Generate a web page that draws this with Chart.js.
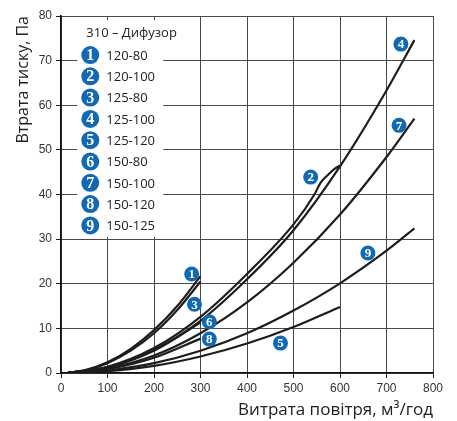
<!DOCTYPE html>
<html>
<head>
<meta charset="utf-8">
<script src="https://cdn.jsdelivr.net/npm/chart.js@4.4.1/dist/chart.umd.min.js"></script>
<style>
html,body{margin:0;padding:0;background:#fff;}
#wrap{position:relative;width:457px;height:421px;}
</style>
</head>
<body>
<div id="wrap"><canvas id="c" width="457" height="421"></canvas></div>
<script>
// ---- data ----
const seriesNames = ['120-80','120-100','125-80','125-100','125-120','150-80','150-100','150-120','150-125'];
const legendTitle = '310 – Дифузор';
const xTicks = [0,100,200,300,400,500,600,700,800];
const yTicks = [0,10,20,30,40,50,60,70,80];

const flow1 = [15, 50, 100, 150, 200, 250, 300];
const dp1   = [0.05, 0.6, 2.4, 5.4, 9.6, 15.0, 21.7];
const flow2 = [15, 100, 200, 300, 400, 500, 545, 558, 575, 589, 600];
const dp2   = [0.05, 1.4, 5.6, 12.6, 22.2, 33.3, 40.0, 42.6, 44.5, 45.8, 46.5];
const flow3 = [15, 50, 100, 150, 200, 250, 300];
const dp3   = [0.05, 0.5, 2.2, 5.0, 8.9, 14.1, 20.5];
const flow4 = [15, 100, 200, 300, 400, 500, 600, 700, 760];
const dp4   = [0.03, 1.3, 5.2, 11.7, 21.0, 32.0, 46.3, 63.3, 74.6];
const flow5 = [15, 100, 200, 300, 400, 500, 600];
const dp5   = [0.01, 0.4, 1.6, 3.7, 6.6, 10.3, 14.8];
const flow6 = [15, 100, 200, 300];
const dp6   = [0.03, 1.25, 5.0, 11.3];
const flow7 = [15, 100, 200, 300, 400, 500, 600, 700, 760];
const dp7   = [0.02, 1.0, 3.9, 8.9, 15.8, 24.7, 35.5, 48.4, 57.0];
const flow8 = [15, 100, 200, 300];
const dp8   = [0.02, 0.85, 3.4, 7.7];
const flow9 = [15, 100, 200, 300, 400, 500, 600, 700, 760];
const dp9   = [0.01, 0.56, 2.2, 5.0, 8.9, 14.0, 20.1, 27.4, 32.4];

// numbered marker positions (data units)
const markX = [281, 537, 287, 731, 472, 319, 727, 319, 660];
const markY = [22.2, 43.9, 15.4, 73.7, 6.7, 11.5, 55.5, 7.6, 26.9];

const flows = [flow1, flow2, flow3, flow4, flow5, flow6, flow7, flow8, flow9];
const dps   = [dp1, dp2, dp3, dp4, dp5, dp6, dp7, dp8, dp9];

const BLUE = '#1169b3';
const LINE = '#1d1d1d';
const GRID = '#4a4a4a';

const datasets = flows.map((f, i) => ({
  label: seriesNames[i],
  data: f.map((x, j) => ({x: x, y: dps[i][j]})),
  borderColor: LINE,
  borderWidth: 2.2,
  pointRadius: 0,
  fill: false,
  cubicInterpolationMode: 'monotone'
}));

function numBadge(ctx, x, y, r, n, fontPx) {
  ctx.save();
  ctx.beginPath();
  ctx.arc(x, y, r, 0, Math.PI * 2);
  ctx.fillStyle = BLUE;
  ctx.fill();
  ctx.fillStyle = '#fff';
  ctx.font = 'bold ' + fontPx + 'px "Liberation Serif", serif';
  ctx.textAlign = 'center';
  ctx.textBaseline = 'middle';
  ctx.fillText(String(n), x, y + 1);
  ctx.restore();
}

const overlay = {
  id: 'overlay',
  beforeDatasetsDraw(chart) {
    const ctx = chart.ctx;
    const xs = chart.scales.x, ys = chart.scales.y;
    // legend box
    const bx = xs.getPixelForValue(35), bx2 = xs.getPixelForValue(220);
    const by = ys.getPixelForValue(79.1), by2 = ys.getPixelForValue(30.5);
    ctx.save();
    ctx.fillStyle = '#fff';
    ctx.fillRect(bx, by, bx2 - bx, by2 - by);
    ctx.fillStyle = '#222';
    ctx.font = '13px "Open Sans", sans-serif';
    ctx.textBaseline = 'middle';
    ctx.textAlign = 'left';
    ctx.fillText(legendTitle, bx + 9, by + 13);
    const step = 21.3;
    for (let i = 0; i < seriesNames.length; i++) {
      const cy = by + 35 + i * step;
      numBadge(ctx, bx + 13, cy, 9, i + 1, 16);
      ctx.fillStyle = '#222';
      ctx.font = '13px "Open Sans", sans-serif';
      ctx.textAlign = 'left';
      ctx.textBaseline = 'middle';
      ctx.fillText(seriesNames[i], bx + 29, cy + 1);
    }
    ctx.restore();
  },
  afterDatasetsDraw(chart) {
    const ctx = chart.ctx;
    const xs = chart.scales.x, ys = chart.scales.y;
    for (let i = 0; i < markX.length; i++) {
      numBadge(ctx, xs.getPixelForValue(markX[i]), ys.getPixelForValue(markY[i]), 7.5, i + 1, 13);
    }
  }
};

new Chart(document.getElementById('c'), {
  type: 'line',
  data: { datasets: datasets },
  plugins: [overlay],
  options: {
    responsive: false,
    animation: false,
    layout: { padding: { left: 0, right: 24, top: 16, bottom: 0 } },
    plugins: { legend: { display: false }, tooltip: { enabled: false } },
    scales: {
      x: {
        type: 'linear', min: 0, max: 800,
        afterBuildTicks: s => { s.ticks = xTicks.map(v => ({value: v})); },
        afterFit: s => { s.height = 48; },
        grid: { color: GRID, lineWidth: 1, tickLength: 5, tickColor: '#222' },
        border: { color: '#111', width: 1.6 },
        ticks: { color: '#333', font: { family: '"Liberation Sans", Arial, sans-serif', size: 12 }, padding: 3, maxRotation: 0 },
        title: { display: true, text: 'Витрата повітря, м³/год', align: 'end', color: '#222',
                 font: { family: '"Open Sans", sans-serif', size: 17 }, padding: { top: 0, bottom: 1 } }
      },
      y: {
        type: 'linear', min: 0, max: 80,
        afterBuildTicks: s => { s.ticks = yTicks.map(v => ({value: v})); },
        afterFit: s => { s.width = 61; },
        grid: { color: GRID, lineWidth: 1, tickLength: 5, tickColor: '#222' },
        border: { color: '#111', width: 1.6 },
        ticks: { color: '#333', font: { family: '"Liberation Sans", Arial, sans-serif', size: 12 }, padding: 4 },
        title: { display: true, text: 'Втрата тиску, Па', align: 'end', color: '#222',
                 font: { family: '"Open Sans", sans-serif', size: 16 }, padding: { top: 14, bottom: 0 } }
      }
    }
  }
});
</script>
</body>
</html>
